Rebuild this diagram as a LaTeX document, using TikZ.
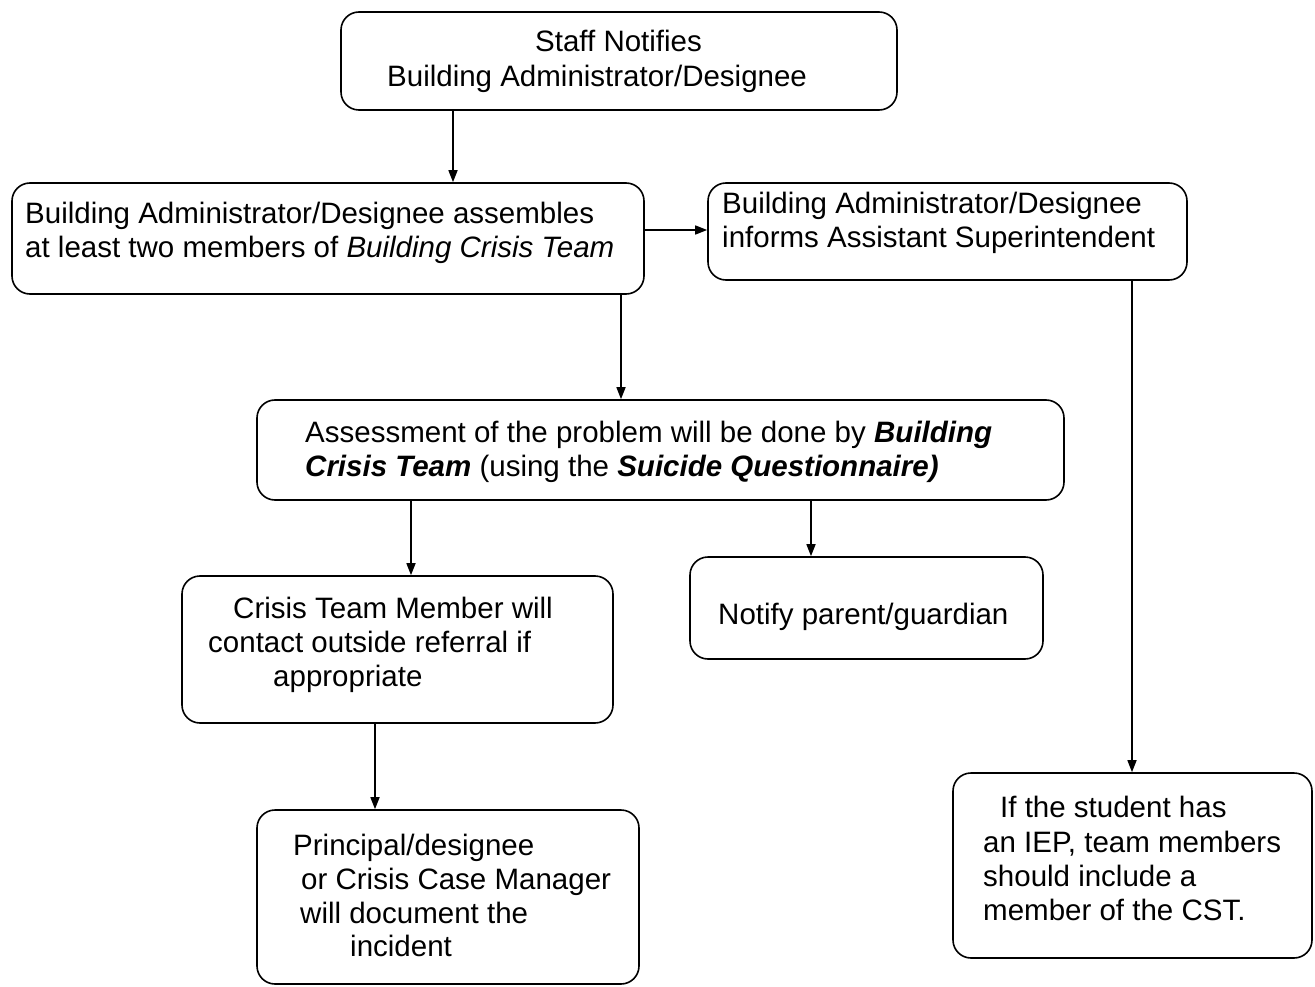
\documentclass[tikz,border=0pt]{standalone}
\usepackage{fontspec}
\setmainfont{Liberation Sans}
\usetikzlibrary{arrows.meta}
\begin{document}
\begin{tikzpicture}[x=1pt,y=-1pt,
  box/.style={draw, line width=1.6pt, rounded corners=18pt, inner sep=0pt},
  txt/.style={anchor=base west, inner sep=0pt, font=\fontsize{29.5}{34}\selectfont},
  arr/.style={line width=1.5pt, -{Triangle[length=12pt,width=9pt]}}]
\useasboundingbox (0,0) rectangle (1315,987);

% boxes
\node[box, minimum width=556pt, minimum height=98pt]  (staff)     at (619,61)      {};
\node[box, minimum width=632pt, minimum height=111pt] (assemble)  at (328,238.5)   {};
\node[box, minimum width=479pt, minimum height=97pt]  (informs)   at (947.5,231.5) {};
\node[box, minimum width=807pt, minimum height=100pt] (assess)    at (660.5,450)   {};
\node[box, minimum width=431pt, minimum height=147pt] (member)    at (397.5,649.5) {};
\node[box, minimum width=353pt, minimum height=102pt] (notify)    at (866.5,608)   {};
\node[box, minimum width=382pt, minimum height=174pt] (principal) at (448,897)     {};
\node[box, minimum width=359pt, minimum height=185pt] (iep)       at (1132.5,865.5){};

% texts
\node[txt] (staffA) at (535,52) {Staff Notifies};
\node[txt] (staffB) at (387,87) {Building Administrator/Designee};

\node[txt] (asmA) at (25,224) {Building Administrator/Designee assembles};
\node[txt] (asmB) at (25,258) {at least two members of \textit{Building Crisis Team}};

\node[txt] (infA) at (722,214) {Building Administrator/Designee};
\node[txt] (infB) at (722,248) {informs Assistant Superintendent};

\node[txt] (assA) at (305,442) {Assessment of the problem will be done by \textbf{\textit{Building}}};
\node[txt] (assB) at (305,476) {\textbf{\textit{Crisis Team}} (using the \textbf{\textit{Suicide Questionnaire)}}};

\node[txt] (memA) at (233,618) {Crisis Team Member will};
\node[txt] (memB) at (208,652) {contact outside referral if};
\node[txt] (memC) at (273,686) {appropriate};

\node[txt] (notA) at (718,624) {Notify parent/guardian};

\node[txt] (priA) at (293,855) {Principal/designee};
\node[txt] (priB) at (301,889) {or Crisis Case Manager};
\node[txt] (priC) at (300,923) {will document the};
\node[txt] (priD) at (350,956) {incident};

\node[txt] (iepA) at (1000,817) {If the student has};
\node[txt] (iepB) at (983,852) {an IEP, team members};
\node[txt] (iepC) at (983,886) {should include a};
\node[txt] (iepD) at (983,920) {member of the CST.};

% connectors
\draw[arr] ([xshift=-166pt]staff.south) -- ([xshift=-166pt]staff.south |- assemble.north);
\draw[arr] ([yshift=8.5pt]assemble.east) -- ([yshift=8.5pt]assemble.east -| informs.west);
\draw[arr] ([xshift=293pt]assemble.south) -- ([xshift=293pt]assemble.south |- assess.north);
\draw[arr] ([xshift=-249.5pt]assess.south) -- ([xshift=-249.5pt]assess.south |- member.north);
\draw[arr] ([xshift=150.5pt]assess.south) -- ([xshift=150.5pt]assess.south |- notify.north);
\draw[arr] ([xshift=-22.5pt]member.south) -- ([xshift=-22.5pt]member.south |- principal.north);
\draw[arr] ([xshift=184.5pt]informs.south) -- ([xshift=184.5pt]informs.south |- iep.north);
\end{tikzpicture}
\end{document}
